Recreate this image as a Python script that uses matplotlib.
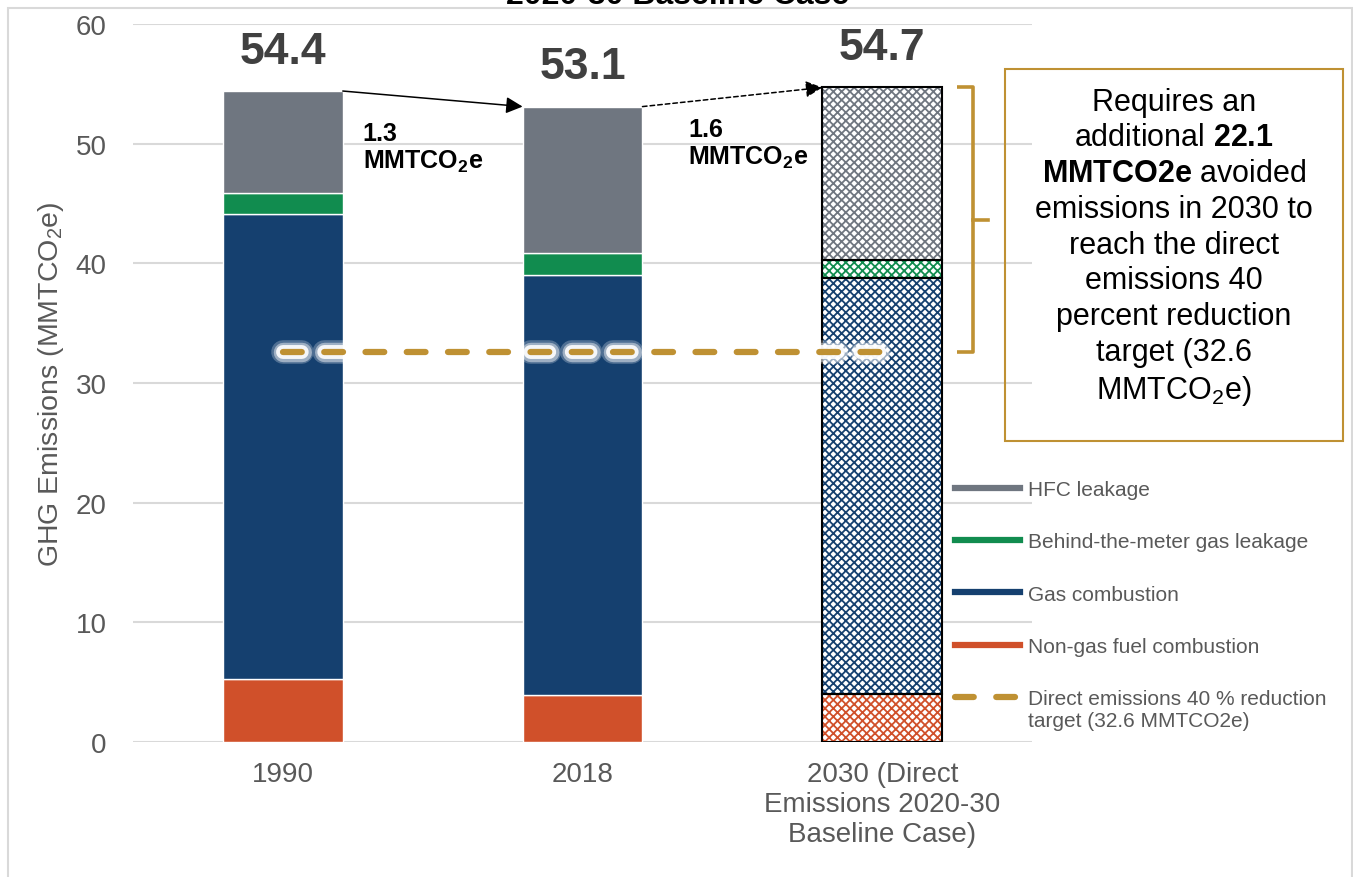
import matplotlib
matplotlib.use('Agg')
import matplotlib.pyplot as plt
import matplotlib.patheffects as pe
from matplotlib.lines import Line2D
from matplotlib.patches import Rectangle
import numpy as np

plt.rcParams['font.family'] = ['Liberation Sans', 'DejaVu Sans']
plt.rcParams['mathtext.fontset'] = 'custom'
plt.rcParams['mathtext.rm'] = 'Liberation Sans'
plt.rcParams['mathtext.bf'] = 'Liberation Sans:bold'
plt.rcParams['mathtext.it'] = 'Liberation Sans:italic'
plt.rcParams['hatch.linewidth'] = 1.3

# data (MMTCO2e)
categories = ['1990', '2018', '2030 (Direct\nEmissions 2020-30\nBaseline Case)']
non_gas = [5.3, 3.9, 4.0]
gas = [38.8, 35.1, 34.8]
btm_leak = [1.8, 1.9, 1.5]
hfc = [8.5, 12.2, 14.4]
totals = [54.4, 53.1, 54.7]
changes = ['1.3', '1.6']
target = 32.6
extra_needed = 22.1

series = [non_gas, gas, btm_leak, hfc]
names = ['Non-gas fuel combustion', 'Gas combustion',
         'Behind-the-meter gas leakage', 'HFC leakage']
colors = ['#D0502A', '#15406F', '#118C4F', '#6F7680']
gold = '#BF9133'
tick_grey = '#595959'

fig = plt.figure(figsize=(13.53, 8.78), dpi=100)
ax = fig.add_axes([0.0983, 0.1538, 0.6645, 0.8177])

x = np.arange(len(categories))
w = 0.4
bottom = np.zeros(len(categories))
for vals, col in zip(series, colors):
    vals = np.array(vals)
    # historical bars solid
    ax.bar(x[:2], vals[:2], w, bottom=bottom[:2], color=col,
           edgecolor='white', linewidth=1, zorder=2)
    # projected bar hatched
    ax.bar(x[2], vals[2], w, bottom=bottom[2], facecolor='white',
           edgecolor=col, hatch='xxxx', linewidth=0, zorder=2)
    ax.bar(x[2], vals[2], w, bottom=bottom[2], fill=False,
           edgecolor='black', linewidth=1.5, zorder=3)
    bottom += vals

# totals above bars
for xi, t in zip(x, totals):
    ax.text(xi, t + 2.35, f'{t:.1f}', ha='center', va='baseline',
            fontsize=32, fontweight='bold', color='#404040')

# change arrows between bars
ax.annotate('', xy=(x[1] - w / 2, totals[1]), xytext=(x[0] + w / 2, totals[0]),
            arrowprops=dict(arrowstyle='-|>', color='black', lw=1.1,
                            mutation_scale=25, shrinkA=0, shrinkB=0), zorder=4)
ax.annotate('', xy=(x[2] - w / 2, totals[2]), xytext=(x[1] + w / 2, totals[1]),
            arrowprops=dict(arrowstyle='-|>', color='black', lw=1.1,
                            linestyle=(0, (3, 2)), mutation_scale=25,
                            shrinkA=0, shrinkB=0), zorder=4)
ax.text(0.267, 49.7, changes[0] + '\n' + r'$\mathbf{MMTCO_2e}$', fontsize=18,
        fontweight='bold', va='center', ha='left', linespacing=1.15)
ax.text(1.353, 50.0, changes[1] + '\n' + r'$\mathbf{MMTCO_2e}$', fontsize=18,
        fontweight='bold', va='center', ha='left', linespacing=1.15)

# reduction target line with white glow
tline, = ax.plot([x[0], x[2]], [target, target], color=gold, lw=4.5,
                 linestyle=(0, (3.0, 3.6)), dash_capstyle='round', zorder=5)
tline.set_path_effects([pe.Stroke(linewidth=17, foreground='white', alpha=0.25),
                        pe.Stroke(linewidth=14, foreground='white', alpha=0.45),
                        pe.Stroke(linewidth=10, foreground='white', alpha=0.9),
                        pe.Normal()])

# bracket showing the gap to target
top = totals[2]
mid = (totals[2] + target) / 2
ax.plot([2.25, 2.303, 2.303, 2.25], [top, top, target, target], color=gold,
        lw=2.6, solid_joinstyle='round', solid_capstyle='butt', zorder=4,
        clip_on=False)
ax.plot([2.303, 2.353], [mid, mid], color=gold, lw=2.6, zorder=4, clip_on=False)

ax.set_xlim(-0.5, 2.5)
ax.set_ylim(0, 60)
ax.set_yticks(range(0, 61, 10))
ax.set_xticks(x)
ax.set_xticklabels(categories)
ax.tick_params(axis='y', length=0, pad=19, labelsize=20, labelcolor=tick_grey)
ax.tick_params(axis='x', length=0, pad=14, labelsize=20, labelcolor=tick_grey)
ax.grid(axis='y', color='#D9D9D9', lw=1.5, zorder=0)
ax.set_axisbelow(True)
for s in ax.spines.values():
    s.set_visible(False)
ax.set_ylabel(r'GHG Emissions (MMTCO$_{\mathrm{2}}$e)', fontsize=20.5,
              color=tick_grey, labelpad=7)

# legend
handles = [Line2D([], [], color=colors[3], lw=4.5),
           Line2D([], [], color=colors[2], lw=4.5),
           Line2D([], [], color=colors[1], lw=4.5),
           Line2D([], [], color=colors[0], lw=4.5),
           Line2D([], [], color=gold, lw=4.5, linestyle=(0, (3.0, 3.6)),
                  dash_capstyle='round')]
labels = [names[3], names[2], names[1], names[0],
          'Direct emissions 40 % reduction']
leg = fig.legend(handles, labels, loc='upper left',
                 bbox_to_anchor=(955 / 1353, 1 - 481 / 878), frameon=False,
                 fontsize=15, labelcolor=tick_grey, handlelength=3.1,
                 handletextpad=0.4, labelspacing=1.6, borderpad=0,
                 borderaxespad=0)
fig.text(1028 / 1353, 1 - 722 / 878, 'target (32.6 MMTCO2e)', fontsize=15,
         color=tick_grey, ha='left', va='center')

# text box on the right
fig.add_artist(Rectangle((1005 / 1353, 1 - 442 / 878), 338 / 1353, 372 / 878,
                         transform=fig.transFigure, fill=False,
                         edgecolor=gold, lw=1.5))
box_text = ('Requires an\n'
            'additional ' + r'$\mathbf{' + f'{extra_needed:.1f}' + r'}$' + '\n'
            r'$\mathbf{MMTCO2e}$' + ' avoided\n'
            'emissions in 2030 to\n'
            'reach the direct\n'
            'emissions 40\n'
            'percent reduction\n'
            f'target ({target:.1f}\n'
            r'MMTCO$_{\mathrm{2}}$e)')
fig.text(1174 / 1353, 1 - 248 / 878, box_text, ha='center', va='center',
         multialignment='center', fontsize=22, linespacing=1.25, color='black')

# cropped title and outer frame
fig.text(678 / 1353, 1 - 4 / 878, '2020-30 Baseline Case', ha='center',
         va='baseline', fontsize=23, fontweight='bold')
fig.add_artist(Rectangle((8 / 1353, -0.01), 1344 / 1353, 1.0 - 9 / 878 + 0.01,
                         transform=fig.transFigure, fill=False,
                         edgecolor='#D9D9D9', lw=1.5))

fig.savefig('out.png', dpi=100)
